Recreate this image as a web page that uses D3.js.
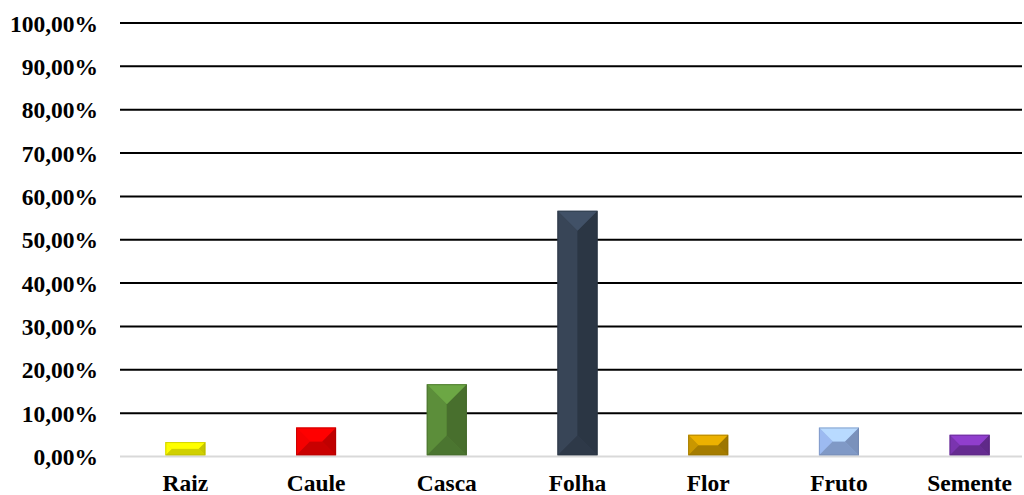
<!DOCTYPE html>
<html>
<head>
<meta charset="utf-8">
<title>Partes da planta</title>
<script src="https://cdn.jsdelivr.net/npm/d3@7/dist/d3.min.js"></script>
<style>
  body { margin: 0; background: #fff; }
  svg text { font-family: "Liberation Serif", "Times New Roman", serif; font-weight: bold; }
</style>
</head>
<body>
<div id="chart"></div>
<script>
// dados do grafico
var categorias = ["Raiz", "Caule", "Casca", "Folha", "Flor", "Fruto", "Semente"];
var valores = [0.0333, 0.0667, 0.1667, 0.5667, 0.05, 0.0667, 0.05];
var cores = ["#e8e800", "#e00000", "#548235", "#333f50", "#b88a00", "#8faadc", "#7030a0"];
var ticks = [0, 0.1, 0.2, 0.3, 0.4, 0.5, 0.6, 0.7, 0.8, 0.9, 1.0];

var width = 1024, height = 495;
var svg = d3.select("#chart").append("svg")
    .attr("width", width)
    .attr("height", height);

var x = d3.scaleBand()
    .domain(categorias)
    .range([120, 1035])
    .paddingInner(0.694)
    .paddingOuter(0.347);

var y = d3.scaleLinear()
    .domain([0, 1])
    .range([456.5, 23]);

var fmt = function(d){
    return (d * 100).toFixed(2).replace(".", ",") + "%";
};

// linhas de grade
svg.selectAll("line.grid")
    .data(ticks.filter(function(d){ return d > 0; }))
    .enter()
    .append("line")
    .attr("class", "grid")
    .attr("x1", 120)
    .attr("x2", 1022)
    .attr("y1", function(d){ return y(d); })
    .attr("y2", function(d){ return y(d); })
    .attr("stroke", "#000")
    .attr("stroke-width", 2);

// eixo y (rotulos)
var yAxis = d3.axisLeft(y).tickValues(ticks).tickFormat(fmt).tickSize(0).tickPadding(0);
var gy = svg.append("g").attr("transform", "translate(98,0)").call(yAxis);
gy.select(".domain").remove();
gy.selectAll("text")
    .attr("font-size", "23.5px")
    .attr("font-family", "Liberation Serif")
    .attr("font-weight", "bold")
    .attr("fill", "#000")
    .attr("dy", "0.34em");

// barras com efeito chanfrado
var g = svg.selectAll("g.bar")
    .data(valores)
    .enter()
    .append("g")
    .attr("class", "bar");

g.each(function(d, i){
    var x0 = x(categorias[i]), w = x.bandwidth(), x1 = x0 + w;
    var y0 = y(d), y1 = y(0) - 1, h = y1 - y0;
    var b = Math.min(w / 2, h / 2);
    var c = d3.color(cores[i]);
    var sel = d3.select(this);
    function poly(pts, col){
        sel.append("polygon")
            .attr("points", pts.map(function(p){ return p.join(","); }).join(" "))
            .attr("fill", col);
    }
    sel.append("rect")
        .attr("x", x0).attr("y", y0)
        .attr("width", w).attr("height", h)
        .attr("fill", c.formatHex());
    poly([[x0, y0], [x0 + b, y0 + b], [x0 + b, y1 - b], [x0, y1]], c.brighter(0.25).formatHex());
    poly([[x1, y0], [x1 - b, y0 + b], [x1 - b, y1 - b], [x1, y1]], c.darker(0.45).formatHex());
    if (h > w) {
        poly([[x0 + w / 2, y0 + b], [x1 - b, y0 + b], [x1 - b, y1 - b], [x0 + w / 2, y1 - b]], c.darker(0.15).formatHex());
    }
    poly([[x0, y1], [x1, y1], [x1 - b, y1 - b], [x0 + b, y1 - b]], c.darker(0.3).formatHex());
    poly([[x0, y0], [x1, y0], [x1 - b, y0 + b], [x0 + b, y0 + b]], c.brighter(0.7).formatHex());
    sel.append("rect")
        .attr("x", x0 + 0.5).attr("y", y0 + 0.5)
        .attr("width", w - 1).attr("height", h - 1)
        .attr("fill", "none")
        .attr("stroke", c.darker(0.8).formatHex())
        .attr("stroke-opacity", 0.5)
        .attr("stroke-width", 1);
});

// linha base
svg.append("line")
    .attr("x1", 120).attr("x2", 1022)
    .attr("y1", y(0)).attr("y2", y(0))
    .attr("stroke", "#d9d9d9")
    .attr("stroke-width", 2);

// eixo x (rotulos)
var xAxis = d3.axisBottom(x).tickSize(0).tickPadding(0);
var gx = svg.append("g").attr("transform", "translate(0,491)").call(xAxis);
gx.select(".domain").remove();
gx.selectAll("text")
    .attr("font-size", "23.5px")
    .attr("font-family", "Liberation Serif")
    .attr("font-weight", "bold")
    .attr("fill", "#000")
    .attr("dy", 0);
</script>
</body>
</html>
